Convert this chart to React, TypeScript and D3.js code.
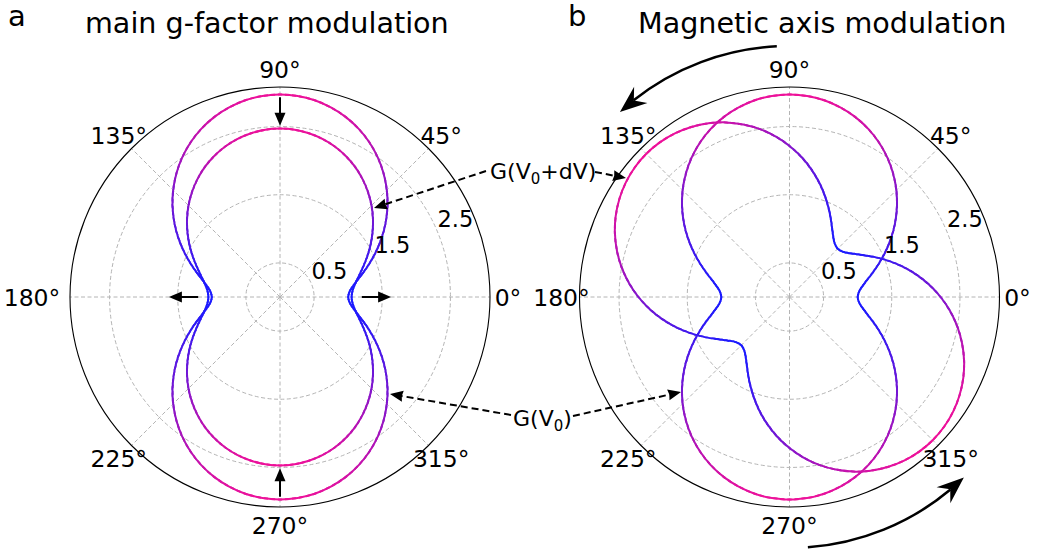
import React from "react";
import * as d3 from "d3";

const W = 1038;
const H = 549;
const FONT = "DejaVu Sans";

// polar axis ticks
const ANGLE_TICKS = [0, 45, 90, 135, 180, 225, 270, 315];
const RADIAL_TICKS = [0.5, 1.5, 2.5];
const R_MAX = 3.08;
const RADIAL_LABEL_ANGLE = 22.5;

// G(theta) for one quadrant (the curves are symmetric)
const QUARTER_ANGLES = [0, 5, 10, 15, 20, 25, 30, 35, 40, 45, 50, 55, 60, 65, 70, 75, 80, 85, 90];
const G_V0 = [1.0, 1.029, 1.112, 1.234, 1.384, 1.548, 1.719, 1.89, 2.057, 2.216, 2.364, 2.5, 2.62, 2.725, 2.812, 2.88, 2.93, 2.96, 2.97];
const G_V0_DV = [1.05, 1.068, 1.119, 1.199, 1.299, 1.413, 1.534, 1.657, 1.78, 1.898, 2.009, 2.111, 2.203, 2.282, 2.349, 2.401, 2.439, 2.462, 2.47];

// rotation of the magnetic axis (degrees) for each curve
const PANEL_A_CURVES = [
  { values: G_V0, rot: 0 },
  { values: G_V0_DV, rot: 0 },
];
const PANEL_B_CURVES = [
  { values: G_V0, rot: 0 },
  { values: G_V0, rot: 45 },
];

// straight arrows in panel a: [angle, from r, to r]
const ARROWS_A: [number, number, number][] = [
  [90, 2.93, 2.51],
  [270, 2.93, 2.51],
  [0, 1.2, 1.63],
  [180, 1.2, 1.63],
];

const COLOR_LOW = "#1a1aff";
const COLOR_HIGH = "#ee1199";

const N_WEDGE = 180;

function fullCurve(q: number[], rot: number): [number, number][] {
  const pts: [number, number][] = [];
  for (let a = 0; a < 360; a += 5) {
    let m = a % 180;
    if (m > 90) m = 180 - m;
    const r = q[QUARTER_ANGLES.indexOf(m)];
    pts.push([a + rot, r]);
  }
  return pts;
}

function head(tx: number, ty: number, ux: number, uy: number, len: number, hw: number, indent = 0) {
  const bx = tx - ux * len;
  const by = ty - uy * len;
  const px = -uy;
  const py = ux;
  const ix = tx - ux * (len - indent);
  const iy = ty - uy * (len - indent);
  return `M${tx},${ty}L${bx + px * hw},${by + py * hw}L${ix},${iy}L${bx - px * hw},${by - py * hw}Z`;
}

const R = 210;
const rScale = d3.scaleLinear().domain([0, R_MAX]).range([0, R]);
const toRad = (d: number) => (d * Math.PI) / 180;

const lineGen = d3
  .lineRadial<[number, number]>()
  .angle((d) => toRad(90 - d[0]))
  .radius((d) => rScale(d[1]))
  .curve(d3.curveCatmullRomClosed.alpha(0.5));

const wedgeArc = d3.arc<any>();
const colorInterp = d3.interpolateRgb(COLOR_LOW, COLOR_HIGH);

function Panel({ cx, cy, curves, shift180 }: { cx: number; cy: number; curves: { values: number[]; rot: number }[]; shift180: number }) {
  const step = 360 / N_WEDGE;
  const paths = curves.map((c) => ({ d: lineGen(fullCurve(c.values, c.rot)) || "", rot: c.rot }));
  return (
    <g transform={`translate(${cx},${cy})`}>
      {RADIAL_TICKS.map((t) => (
        <circle key={t} r={rScale(t)} fill="none" stroke="#b4b4b4" strokeWidth={1} strokeDasharray="4 2.5" />
      ))}
      {ANGLE_TICKS.map((a) => (
        <line key={a} x1={0} y1={0} x2={R * Math.cos(toRad(a))} y2={-R * Math.sin(toRad(a))} stroke="#b4b4b4" strokeWidth={1} strokeDasharray="4 2.5" />
      ))}
      <circle r={R} fill="none" stroke="#000" strokeWidth={1.1} />
      {d3.range(N_WEDGE).map((k) => {
        const mid = (k + 0.5) * step;
        return (
          <g key={k} clipPath={`url(#wedge${k})`}>
            {paths.map((p, i) => {
              const s = Math.sin(toRad(mid - p.rot));
              return <path key={i} d={p.d} fill="none" stroke={colorInterp(s * s)} strokeWidth={2} />;
            })}
          </g>
        );
      })}
      {ANGLE_TICKS.map((a) => {
        const x = 228 * Math.cos(toRad(a)) + (a === 180 ? shift180 : 0);
        const y = -228 * Math.sin(toRad(a));
        return (
          <text key={a} x={x} y={y + 8.5} textAnchor="middle" fontFamily={FONT} fontSize={23.5} fill="#000">
            {`${a}°`}
          </text>
        );
      })}
      {RADIAL_TICKS.map((t) => {
        const x = rScale(t) * Math.cos(toRad(RADIAL_LABEL_ANGLE));
        const y = -rScale(t) * Math.sin(toRad(RADIAL_LABEL_ANGLE));
        return (
          <text key={t} x={x} y={y - 4.5} fontFamily={FONT} fontSize={22.5} fill="#000">
            {t}
          </text>
        );
      })}
    </g>
  );
}

function DashedArrow({ x1, y1, x2, y2 }: { x1: number; y1: number; x2: number; y2: number }) {
  const L = Math.hypot(x2 - x1, y2 - y1);
  const ux = (x2 - x1) / L;
  const uy = (y2 - y1) / L;
  const hl = 13;
  return (
    <g>
      <line x1={x1} y1={y1} x2={x2 - ux * (hl - 2)} y2={y2 - uy * (hl - 2)} stroke="#000" strokeWidth={2} strokeDasharray="7 4" />
      <path d={head(x2, y2, ux, uy, hl, 5.5, 1)} fill="#000" />
    </g>
  );
}

function CurvedArrow({ cx, cy, r, a0, a1 }: { cx: number; cy: number; r: number; a0: number; a1: number }) {
  const pt = (a: number) => [cx + r * Math.cos(toRad(a)), cy - r * Math.sin(toRad(a))];
  const len = 27;
  const indent = 9;
  const dir = a1 > a0 ? 1 : -1;
  const aShaft = a1 - dir * (((len - indent) / r) * 180) / Math.PI;
  const aBack = a1 - dir * ((len / r) * 180) / Math.PI;
  const [sx, sy] = pt(a0);
  const [ex, ey] = pt(aShaft);
  const [tx, ty] = pt(a1);
  const [bx, by] = pt(aBack);
  const L = Math.hypot(tx - bx, ty - by);
  const ux = (tx - bx) / L;
  const uy = (ty - by) / L;
  const sweep = dir > 0 ? 0 : 1;
  return (
    <g>
      <path d={`M${sx},${sy}A${r},${r} 0 0 ${sweep} ${ex},${ey}`} fill="none" stroke="#000" strokeWidth={2.5} />
      <path d={head(tx, ty, ux, uy, len, 10.5, indent)} fill="#000" />
    </g>
  );
}

export default function App() {
  const step = 360 / N_WEDGE;
  const cxA = 280;
  const cxB = 789.5;
  const cy = 297;
  return (
    <svg width={W} height={H} style={{ position: "absolute", left: 0, top: 0, background: "#fff" }}>
      <defs>
        {d3.range(N_WEDGE).map((k) => {
          const t1 = k * step - 0.6;
          const t2 = (k + 1) * step + 0.6;
          return (
            <clipPath key={k} id={`wedge${k}`}>
              <path d={wedgeArc({ innerRadius: 0, outerRadius: R + 20, startAngle: toRad(90 - t2), endAngle: toRad(90 - t1) }) || ""} />
            </clipPath>
          );
        })}
      </defs>
      <rect width={W} height={H} fill="#fff" />
      <text x={8} y={26} fontFamily={FONT} fontSize={29} fill="#000">a</text>
      <text x={568} y={26} fontFamily={FONT} fontSize={29} fill="#000">b</text>
      <text x={85} y={33} fontFamily={FONT} fontSize={28.6} fill="#000">main g-factor modulation</text>
      <text x={638} y={33} fontFamily={FONT} fontSize={28.6} fill="#000">Magnetic axis modulation</text>

      <Panel cx={cxA} cy={cy} curves={PANEL_A_CURVES} shift180={-20} />
      <Panel cx={cxB} cy={cy} curves={PANEL_B_CURVES} shift180={0} />

      <g transform={`translate(${cxA},${cy})`}>
        {ARROWS_A.map(([a, r0, r1], i) => {
          const ux = Math.cos(toRad(a));
          const uy = -Math.sin(toRad(a));
          const x0 = rScale(r0) * ux;
          const y0 = rScale(r0) * uy;
          const x1 = rScale(r1) * ux;
          const y1 = rScale(r1) * uy;
          const L = Math.hypot(x1 - x0, y1 - y0);
          const dx = (x1 - x0) / L;
          const dy = (y1 - y0) / L;
          return (
            <g key={i}>
              <line x1={x0} y1={y0} x2={x1 - dx * 10} y2={y1 - dy * 10} stroke="#000" strokeWidth={2} />
              <path d={head(x1, y1, dx, dy, 13, 5.5)} fill="#000" />
            </g>
          );
        })}
      </g>

      <text x={490} y={179} fontFamily={FONT} fontSize={22} fill="#000">
        G(V<tspan fontSize={15} dy={5}>0</tspan>
        <tspan dy={-5}>+dV)</tspan>
      </text>
      <text x={513} y={426} fontFamily={FONT} fontSize={22} fill="#000">
        G(V<tspan fontSize={15} dy={5}>0</tspan>
        <tspan dy={-5}>)</tspan>
      </text>

      <DashedArrow x1={486} y1={171} x2={374} y2={208} />
      <DashedArrow x1={595} y1={172} x2={626} y2={178} />
      <DashedArrow x1={511} y1={415} x2={390} y2={394} />
      <DashedArrow x1={573} y1={416} x2={681} y2={392} />

      <CurvedArrow cx={cxB} cy={cy} r={251} a0={92.9} a1={132.5} />
      <CurvedArrow cx={cxB} cy={cy} r={251} a0={-85.8} a1={-46} />
    </svg>
  );
}
